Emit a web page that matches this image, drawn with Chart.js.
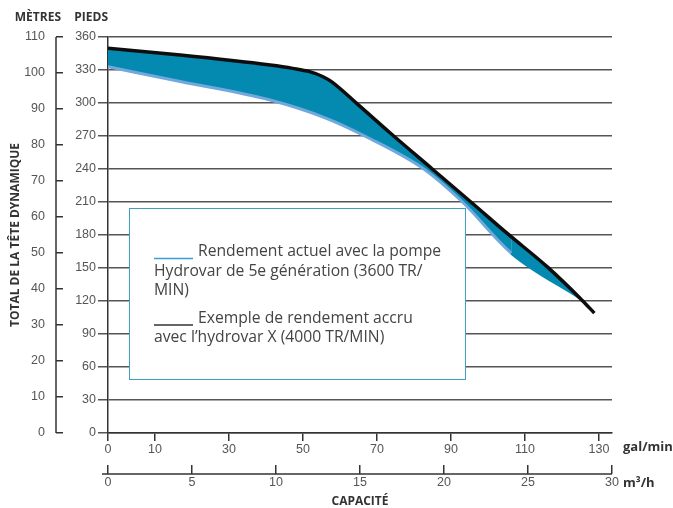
<!DOCTYPE html>
<html>
<head>
<meta charset="utf-8">
<script src="https://cdn.jsdelivr.net/npm/chart.js@4.4.1/dist/chart.umd.min.js"></script>
<style>
  html, body { margin: 0; padding: 0; background: #fff; }
  #wrap { width: 673px; height: 508px; }
</style>
</head>
<body>
<div id="wrap"><canvas id="pump-curve"></canvas></div>
<script>
'use strict';

// capacité en m3/h, hauteur en pieds
const capaciteX = [0, 4.3, 9.65, 11.0, 12.0, 12.8, 13.3, 14.8, 16.8, 19.3, 21.6, 23.8, 26.15, 28.2, 28.95];
const hauteurX = [349.7, 343.6, 334.5, 331.5, 328.5, 323.9, 319.4, 299.7, 272.7, 240, 210, 181, 151, 121, 109];
const capaciteActuel = [0, 4.3, 9.65, 13.0, 15.4, 18.8, 21.1, 24.0, 28.1];
const hauteurActuel = [333, 319.5, 302.7, 286.1, 269.1, 240, 210, 163.6, 122.7];

const galTicks = [0, 10, 30, 50, 70, 90, 110, 130];
const galMin = -2.7;   // le « 0 » gal/min est posé au bord de l'axe
const galMax = 133.5;

const legendText = [
  ['Rendement actuel avec la pompe', 'Hydrovar de 5e génération (3600 TR/', 'MIN)'],
  ['Exemple de rendement accru', 'avec l\u2019hydrovar X (4000 TR/MIN)']
];

const colBlack = '#0d0d0d';
const colBlue = '#72a9dd';
const colFill = '#0489b1';
const colGrid = '#555555';
const colAxis = '#333333';
const colText = '#555555';
const tickFont = { family: "'Liberation Sans', Arial, sans-serif", size: 12.5 };
const titleFamily = "'Open Sans', 'DejaVu Sans', sans-serif";

const toPts = (xs, ys) => xs.map((v, i) => ({ x: v, y: ys[i] }));

const decor = {
  id: 'decor',
  afterDraw(chart) {
    const { ctx, chartArea, scales } = chart;
    const { x, x2, y, y2 } = scales;
    ctx.save();

    // trait vertical de l'axe des mètres
    ctx.strokeStyle = colAxis;
    ctx.lineWidth = 1.5;
    const mx = y2.right - 7;
    ctx.beginPath();
    ctx.moveTo(mx, y2.top);
    ctx.lineTo(mx, y2.bottom);
    ctx.stroke();

    // trait horizontal de l'axe des m3/h
    const ly = x2.top + 9;
    ctx.beginPath();
    ctx.moveTo(x2.left - 6, ly);
    ctx.lineTo(x2.right, ly);
    ctx.stroke();

    // unités
    ctx.fillStyle = '#333';
    ctx.font = 'bold 12px ' + titleFamily;
    ctx.textBaseline = 'middle';
    ctx.textAlign = 'right';
    ctx.fillText('MÈTRES', y2.right - 2, 18);
    ctx.fillText('PIEDS', y.right, 18);
    ctx.textAlign = 'left';
    ctx.font = 'bold 13px ' + titleFamily;
    ctx.fillText('gal/min', x.right + 11, 447);
    ctx.fillText('m³/h', x2.right + 11, 483);

    // boîte de légende
    const bx = chartArea.left + 21, by = 208, bw = 336, bh = 171;
    ctx.fillStyle = '#fff';
    ctx.fillRect(bx, by, bw, bh);
    ctx.strokeStyle = '#3f9fc2';
    ctx.lineWidth = 1;
    ctx.strokeRect(bx + 0.5, by + 0.5, bw, bh);

    ctx.font = '15.7px ' + titleFamily;
    ctx.textBaseline = 'middle';
    const marks = ['#3a9fd3', '#333'];
    let ty = 252;
    legendText.forEach((lines, k) => {
      lines.forEach((line, j) => {
        let tx = bx + 25;
        if (j === 0) {
          ctx.strokeStyle = marks[k];
          ctx.lineWidth = 1.3;
          ctx.beginPath();
          ctx.moveTo(tx, ty + 6.5);
          ctx.lineTo(tx + 39, ty + 6.5);
          ctx.stroke();
          tx += 44;
        }
        ctx.fillStyle = '#444';
        ctx.fillText(line, tx, ty);
        ty += 19.5;
      });
      ty += 8;
    });
    ctx.restore();
  }
};

const lastActuel = capaciteActuel.length - 2;

new Chart(document.getElementById('pump-curve'), {
  type: 'line',
  data: {
    datasets: [{
      label: 'Hydrovar X (4000 TR/MIN)',
      data: toPts(capaciteX, hauteurX),
      xAxisID: 'x2',
      yAxisID: 'y',
      borderColor: colBlack,
      borderWidth: 3.5,
      borderJoinStyle: 'round',
      pointRadius: 0,
      cubicInterpolationMode: 'monotone',
      backgroundColor: colFill,
      fill: 1
    }, {
      label: 'Hydrovar 5e génération (3600 TR/MIN)',
      data: toPts(capaciteActuel, hauteurActuel),
      xAxisID: 'x2',
      yAxisID: 'y',
      borderColor: colBlue,
      borderWidth: 3,
      pointRadius: 0,
      cubicInterpolationMode: 'monotone',
      // le dernier tronçon se fond dans la surface
      segment: { borderColor: (c) => (c.p0DataIndex === lastActuel ? colFill : undefined) },
      fill: false
    }]
  },
  options: {
    responsive: true,
    maintainAspectRatio: false,
    animation: false,
    layout: { padding: { top: 37, right: 61, left: 0, bottom: 0 } },
    plugins: {
      legend: { display: false },
      tooltip: { enabled: false },
      filler: { drawTime: 'beforeDatasetsDraw' }
    },
    scales: {
      x: {
        type: 'linear',
        position: 'bottom',
        weight: 0,
        min: galMin,
        max: galMax,
        afterBuildTicks: (s) => { s.ticks = galTicks.map(v => ({ value: v === 0 ? galMin : v })); },
        afterFit: (s) => { s.height = 32; },
        ticks: {
          callback: (v, i) => galTicks[i],
          autoSkip: false,
          maxRotation: 0,
          padding: 1,
          color: colText,
          font: tickFont
        },
        grid: { drawOnChartArea: false, tickLength: 8, color: colAxis, lineWidth: 1.5 },
        border: { color: colAxis, width: 1.5 }
      },
      x2: {
        type: 'linear',
        position: 'bottom',
        weight: 1,
        min: 0,
        max: 30,
        afterFit: (s) => { s.height = 43; },
        ticks: { stepSize: 5, autoSkip: false, maxRotation: 0, padding: 1, color: colText, font: tickFont },
        grid: { drawOnChartArea: false, tickLength: 9, color: colAxis, lineWidth: 1.5 },
        border: { display: false },
        title: {
          display: true,
          text: 'CAPACITÉ',
          color: '#333',
          font: { family: titleFamily, size: 12, weight: 'bold', lineHeight: 1 },
          padding: { top: 0, bottom: 0 }
        }
      },
      y: {
        position: 'left',
        weight: 0,
        min: 0,
        max: 360,
        afterFit: (s) => { s.width = 45; },
        ticks: { stepSize: 30, autoSkip: false, padding: 2, color: colText, font: tickFont },
        grid: { tickLength: 10, color: colGrid, lineWidth: 1.5 },
        border: { color: colAxis, width: 1.5 }
      },
      y2: {
        position: 'left',
        weight: 1,
        min: 0,
        max: 110,
        afterFit: (s) => { s.width = 63; },
        ticks: { stepSize: 10, autoSkip: false, padding: 11, color: colText, font: tickFont },
        grid: { drawOnChartArea: false, tickLength: 7, color: colAxis, lineWidth: 1.5 },
        border: { display: false },
        title: {
          display: true,
          text: 'TOTAL DE LA TÊTE DYNAMIQUE',
          color: '#333',
          font: { family: titleFamily, size: 12, weight: 'bold', lineHeight: 1 },
          padding: { top: 10, bottom: 0 }
        }
      }
    }
  },
  plugins: [decor]
});
</script>
</body>
</html>
